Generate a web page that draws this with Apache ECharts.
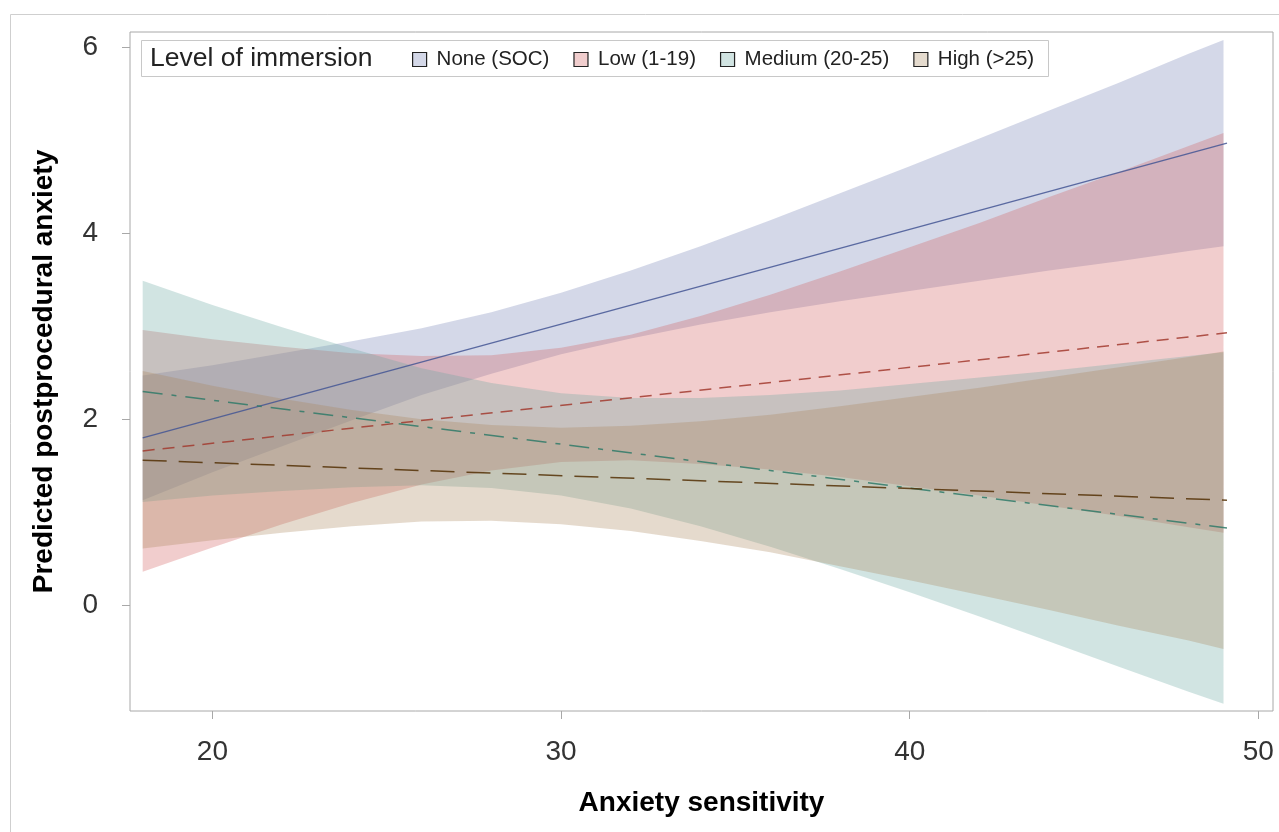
<!DOCTYPE html>
<html>
<head>
<meta charset="utf-8">
<title>Predicted postprocedural anxiety</title>
<script src="https://cdn.jsdelivr.net/npm/echarts@6/dist/echarts.min.js"></script>
<style>
  html, body { margin: 0; padding: 0; background: #fff; }
  #chart { width: 1279px; height: 832px; }
</style>
</head>
<body>
<div id="chart"></div>
<script>
const xs = [18, 20, 22, 24, 26, 28, 30, 32, 34, 36, 38, 40, 42, 44, 46, 48, 49];

// None (SOC)
const noneUpper = [2.47, 2.58, 2.71, 2.84, 2.98, 3.15, 3.36, 3.60, 3.86, 4.14, 4.43, 4.72, 5.02, 5.32, 5.62, 5.93, 6.08];
const noneLower = [1.13, 1.43, 1.71, 1.99, 2.26, 2.49, 2.70, 2.87, 3.02, 3.15, 3.27, 3.38, 3.49, 3.60, 3.70, 3.81, 3.86];
// Low (1-19)
const lowUpper = [2.96, 2.86, 2.78, 2.71, 2.68, 2.69, 2.77, 2.91, 3.11, 3.34, 3.59, 3.85, 4.11, 4.39, 4.66, 4.94, 5.08];
const lowLower = [0.36, 0.62, 0.87, 1.10, 1.30, 1.45, 1.54, 1.56, 1.52, 1.46, 1.38, 1.28, 1.18, 1.07, 0.96, 0.84, 0.78];
// Medium (20-25)
const medUpper = [3.49, 3.23, 2.99, 2.76, 2.55, 2.39, 2.28, 2.23, 2.23, 2.26, 2.31, 2.38, 2.45, 2.52, 2.60, 2.68, 2.72];
const medLower = [1.11, 1.18, 1.23, 1.27, 1.29, 1.26, 1.18, 1.04, 0.85, 0.63, 0.39, 0.14, -0.12, -0.39, -0.66, -0.93, -1.06];
// High (>25)
const highUpper = [2.52, 2.36, 2.22, 2.10, 2.00, 1.94, 1.91, 1.93, 1.98, 2.05, 2.14, 2.24, 2.34, 2.45, 2.56, 2.67, 2.73];
const highLower = [0.61, 0.70, 0.78, 0.85, 0.90, 0.91, 0.87, 0.80, 0.69, 0.57, 0.42, 0.27, 0.11, -0.05, -0.22, -0.38, -0.47];

// fitted lines, end points
const fitX = [18, 49.1];
const noneFit = [1.80, 4.97];
const lowFit = [1.66, 2.93];
const medFit = [2.30, 0.83];
const highFit = [1.56, 1.13];

const groups = ['None (SOC)', 'Low (1-19)', 'Medium (20-25)', 'High (>25)'];
const xTicks = [20, 30, 40, 50];
const yTicks = [0, 2, 4, 6];

const fillColors = ['#6f7eb3', '#d05b5b', '#66a5a0', '#a9865b'];
const lineColors = ['#445694', '#a23a2e', '#2f7a68', '#543005'];
const legendFills = ['#d4d8e8', '#f0cdcd', '#d1e4e2', '#e5dbce'];
const dashes = ['solid', [12, 8], [20, 9, 5, 9], [24, 12]];

const bands = [[noneLower, noneUpper], [lowLower, lowUpper], [medLower, medUpper], [highLower, highUpper]];
const fits = [noneFit, lowFit, medFit, highFit];

const font = '"Liberation Sans", Arial, sans-serif';

// one polygon per band: upper edge left to right, lower edge back
function bandRenderer(lower, upper, color) {
  return function (params, api) {
    if (params.dataIndex !== 0) return;
    const pts = [];
    for (let i = 0; i < xs.length; i++) pts.push(api.coord([xs[i], upper[i]]));
    for (let i = xs.length - 1; i >= 0; i--) pts.push(api.coord([xs[i], lower[i]]));
    return {
      type: 'polygon',
      shape: { points: pts },
      style: { fill: color, opacity: 0.3 }
    };
  };
}

const series = [];
bands.forEach(function (b, g) {
  series.push({
    type: 'custom', name: groups[g],
    data: xs.map(function (x, i) { return [x, b[0][i], b[1][i]]; }),
    encode: { x: 0, y: [1, 2] },
    renderItem: bandRenderer(b[0], b[1], fillColors[g]),
    silent: true, z: 2
  });
});
fits.forEach(function (f, g) {
  series.push({
    type: 'line', name: groups[g],
    data: fitX.map(function (x, i) { return [x, f[i]]; }),
    symbol: 'none', silent: true,
    lineStyle: { color: lineColors[g], width: 1.5, type: dashes[g], opacity: 0.85 },
    z: 3
  });
});

const chart = echarts.init(document.getElementById('chart'));
chart.setOption({
  animation: false,
  backgroundColor: '#fff',
  grid: { left: 130, top: 32, width: 1143, height: 679, show: true, borderColor: '#a8a8a8', borderWidth: 1 },
  xAxis: {
    type: 'value', min: 17.636, max: 50.42,
    name: 'Anxiety sensitivity', nameLocation: 'middle', nameGap: 78,
    nameTextStyle: { fontFamily: font, fontSize: 28, fontWeight: 'bold', color: '#000' },
    axisLine: { show: false, onZero: false },
    axisTick: { show: true, length: 8, lineStyle: { color: '#a8a8a8' }, customValues: xTicks },
    axisLabel: { fontFamily: font, fontSize: 28, color: '#333', margin: 27, customValues: xTicks },
    splitLine: { show: false }
  },
  yAxis: {
    type: 'value', min: -1.137, max: 6.165,
    name: 'Predicted postprocedural anxiety', nameLocation: 'middle', nameGap: 72,
    nameTextStyle: { fontFamily: font, fontSize: 28, fontWeight: 'bold', color: '#000' },
    axisLine: { show: false, onZero: false },
    axisTick: { show: true, length: 8, lineStyle: { color: '#a8a8a8' }, customValues: yTicks },
    axisLabel: { fontFamily: font, fontSize: 28, color: '#333', margin: 32, customValues: yTicks },
    splitLine: { show: false }
  },
  legend: {
    left: 407, top: 44, itemWidth: 14, itemHeight: 14, itemGap: 24, icon: 'rect',
    selectedMode: false, z: 6,
    textStyle: { fontFamily: font, fontSize: 20.5, color: '#222', padding: [0, 0, 0, 5] },
    data: groups.map(function (n, g) {
      return { name: n, itemStyle: { color: legendFills[g], borderColor: '#222', borderWidth: 1.2 } };
    })
  },
  graphic: [
    { type: 'rect', left: 8, top: 12, shape: { width: 1290, height: 840 }, style: { fill: 'none', stroke: '#cfcfcf', lineWidth: 1 }, z: 0, silent: true },
    { type: 'rect', left: 141, top: 40, shape: { width: 907, height: 36 }, style: { fill: '#fff', stroke: '#c8c8c8', lineWidth: 1 }, z: 5, silent: true },
    { type: 'text', left: 150, top: 45, style: { text: 'Level of immersion', fontFamily: font, fontSize: 26.5, fill: '#222' }, z: 6, silent: true }
  ],
  series: series
});
</script>
</body>
</html>
